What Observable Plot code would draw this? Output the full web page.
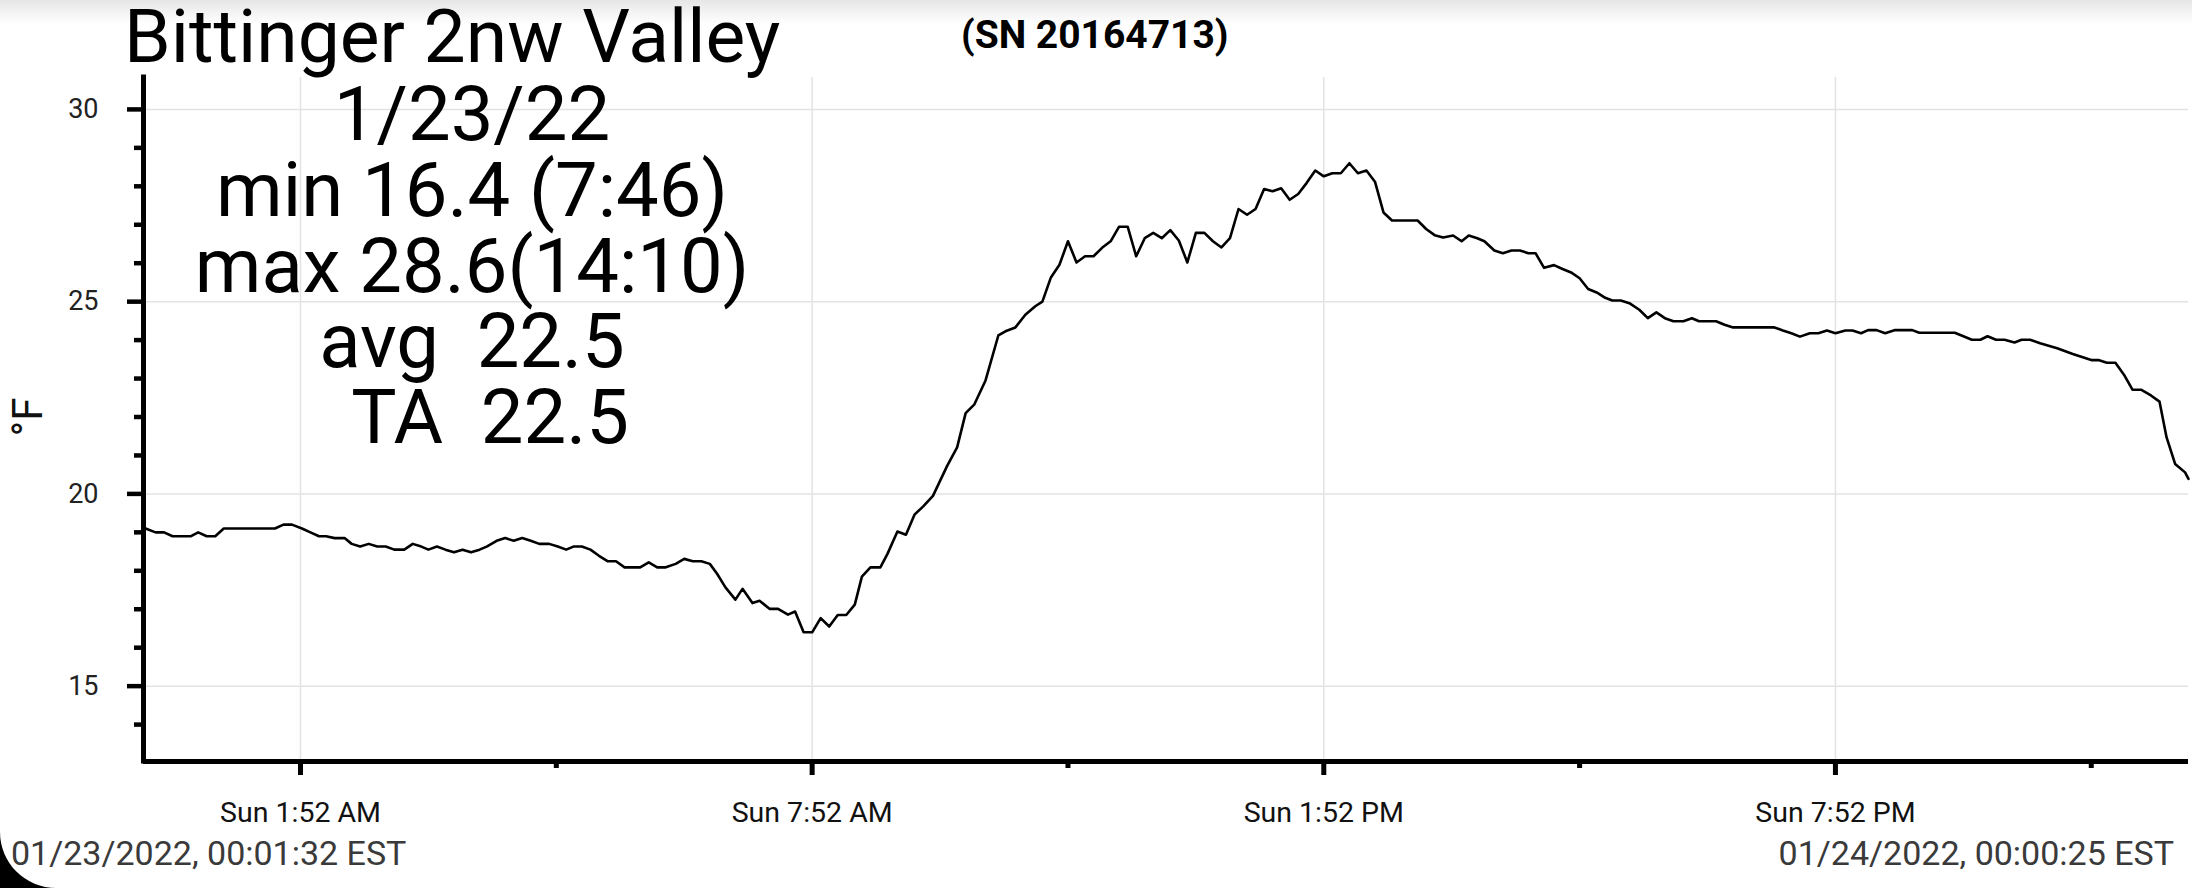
<!DOCTYPE html>
<html><head><meta charset="utf-8">
<script src="https://cdn.jsdelivr.net/npm/d3@7"></script>
<script src="https://cdn.jsdelivr.net/npm/@observablehq/plot@0.6"></script>
<style>
html,body{margin:0;padding:0;background:#000;}
#wrap{position:relative;width:2192px;height:888px;background:#fff;border-bottom-left-radius:56px;overflow:hidden;font-family:Roboto,sans-serif;}
#shade{position:absolute;left:0;top:0;width:100%;height:24px;background:linear-gradient(#e6e6e6,rgba(255,255,255,0));}
#chart{position:absolute;left:0;top:0;}
#overlay{position:absolute;left:0;top:0;pointer-events:none;}
#overlay text{white-space:pre;}
</style></head>
<body><div id="wrap"><div id="shade"></div><div id="chart"></div><svg id="overlay" width="2192" height="888" xml:space="preserve"></svg></div>
<script>
// ---- data ----
const times = ["00:01:32","00:03","00:10","00:16","00:22","00:35","00:40","00:46","00:52","00:58","01:34","01:40","01:46","01:53","01:59","02:05","02:10","02:16","02:23","02:28","02:34","02:40","02:46","02:52","02:58","03:05","03:11","03:17","03:22","03:28","03:34","03:40","03:46","03:52","03:58","04:03","04:10","04:16","04:22","04:28","04:34","04:40","04:47","04:53","04:59","05:04","05:10","05:16","05:22","05:28","05:34","05:40","05:51","05:57","06:03","06:09","06:16","06:22","06:28","06:34","06:40","06:45","06:51","06:58","07:03","07:10","07:15","07:22","07:28","07:35","07:40","07:46","07:52","07:58","08:04","08:10","08:16","08:22","08:27","08:33","08:40","08:45","08:52","08:58","09:04","09:10","09:17","09:21","09:27","09:34","09:40","09:46","09:54","10:03","10:08","10:15","10:22","10:29","10:34","10:40","10:46","10:52","10:58","11:04","11:10","11:16","11:22","11:28","11:34","11:40","11:46","11:52","11:58","12:04","12:10","12:16","12:22","12:28","12:34","12:40","12:46","12:52","12:58","13:04","13:10","13:16","13:22","13:28","13:34","13:40","13:46","13:52","13:58","14:04","14:10","14:16","14:22","14:28","14:34","14:40","14:46","14:58","15:04","15:10","15:16","15:23","15:29","15:34","15:40","15:45","15:52","15:58","16:04","16:10","16:16","16:21","16:27","16:34","16:40","16:46","16:52","16:58","17:04","17:10","17:15","17:21","17:27","17:34","17:40","17:46","17:52","17:58","18:05","18:11","18:16","18:28","18:34","18:40","19:09","19:15","19:21","19:27","19:34","19:40","19:46","19:52","19:59","20:04","20:10","20:15","20:21","20:27","20:34","20:46","20:51","21:16","21:28","21:34","21:39","21:45","21:51","21:58","22:03","22:09","22:16","22:28","22:39","22:52","22:57","23:03","23:09","23:15","23:21","23:27","23:34","23:40","23:45","23:51","23:58","24:00:25"];
const temps = [19.1,19.1,19.0,19.0,18.9,18.9,19.0,18.9,18.9,19.1,19.1,19.2,19.2,19.1,19.0,18.9,18.9,18.85,18.85,18.7,18.63,18.7,18.63,18.63,18.55,18.55,18.7,18.63,18.55,18.63,18.55,18.48,18.55,18.48,18.55,18.63,18.78,18.85,18.78,18.85,18.78,18.7,18.7,18.63,18.55,18.63,18.63,18.55,18.39,18.25,18.25,18.09,18.09,18.22,18.09,18.09,18.18,18.31,18.25,18.25,18.18,17.93,17.57,17.25,17.53,17.16,17.22,17.01,17.01,16.86,16.94,16.4,16.4,16.77,16.55,16.85,16.85,17.12,17.85,18.09,18.09,18.44,19.02,18.94,19.46,19.67,19.95,20.26,20.73,21.21,22.10,22.32,22.95,24.12,24.23,24.33,24.66,24.88,25.00,25.63,25.96,26.57,26.02,26.18,26.18,26.40,26.57,26.95,26.95,26.18,26.65,26.79,26.65,26.86,26.59,26.02,26.79,26.79,26.57,26.41,26.65,27.41,27.26,27.41,27.93,27.87,27.95,27.65,27.80,28.09,28.41,28.26,28.34,28.34,28.6,28.34,28.41,28.12,27.32,27.11,27.11,27.11,26.89,26.73,26.67,26.72,26.57,26.72,26.65,26.57,26.33,26.26,26.33,26.33,26.26,26.26,25.88,25.95,25.85,25.76,25.61,25.33,25.24,25.10,25.03,25.03,24.96,24.79,24.57,24.72,24.57,24.49,24.49,24.57,24.49,24.49,24.40,24.33,24.33,24.25,24.18,24.09,24.18,24.18,24.25,24.18,24.25,24.25,24.18,24.26,24.26,24.18,24.26,24.26,24.19,24.19,24.01,24.01,24.10,24.01,24.01,23.94,24.01,24.01,23.92,23.79,23.64,23.48,23.48,23.41,23.41,23.10,22.71,22.71,22.56,22.40,21.47,20.78,20.56,20.39];

const xMajorTimes = ["01:52","07:52","13:52","19:52"];
const xMajorLabels = ["Sun 1:52 AM","Sun 7:52 AM","Sun 1:52 PM","Sun 7:52 PM"];
const xMinorTimes = ["04:52","10:52","16:52","22:52"];
const yMajor = [15, 20, 25, 30];
const yMinor = [14, 16, 17, 18, 19, 21, 22, 23, 24, 26, 27, 28, 29];
const yDomain = [13.04, 30.83];

const titleText = "Bittinger 2nw Valley";
const serialText = "(SN 20164713)";
const statsLines = ["1/23/22", "min 16.4 (7:46)", "max 28.6(14:10)", "avg  22.5", "  TA  22.5"];
const unitLabel = "°F";
const startLabel = "01/23/2022, 00:01:32 EST";
const endLabel = "01/24/2022, 00:00:25 EST";

// ---- build ----
function toDate(s) {
  const p = s.split(":").map(Number);
  return new Date(Date.UTC(2022, 0, 23, p[0], p[1], p[2] || 0));
}
const data = times.map((t, i) => ({time: toDate(t), temp: temps[i]}));
const xMajor = xMajorTimes.map(toDate);
const xMinor = xMinorTimes.map(toDate);
const start = data[0].time, end = data[data.length - 1].time;

const chart = Plot.plot({
  width: 2192, height: 888,
  marginLeft: 143, marginRight: 4, marginTop: 77, marginBottom: 127,
  style: {background: "transparent", fontFamily: "Roboto, sans-serif", overflow: "visible"},
  x: {type: "utc", domain: [start, end]},
  y: {domain: yDomain},
  marks: [
    Plot.gridY(yMajor, {stroke: "#e3e3e3", strokeOpacity: 1, strokeWidth: 1.5}),
    Plot.gridX(xMajor, {stroke: "#e3e3e3", strokeOpacity: 1, strokeWidth: 1.5}),
    Plot.line(data, {x: "time", y: "temp", stroke: "#000", strokeWidth: 2.6}),
    Plot.axisY(yMinor, {tickSize: 9, tickFormat: () => "", stroke: "#000", strokeWidth: 4.5, label: null}),
    Plot.axisY(yMajor, {tickSize: 16, tickPadding: 29, fontSize: 27, fill: "#222", stroke: "#000", strokeWidth: 4.5, label: null}),
    Plot.axisX(xMinor, {tickSize: 7, tickFormat: () => "", stroke: "#000", strokeWidth: 5, label: null}),
    Plot.axisX(xMajor, {tickSize: 14, tickPadding: 26, fontSize: 28.5, fill: "#111", stroke: "#000", strokeWidth: 5, label: null,
      tickFormat: d => xMajorLabels[xMajor.findIndex(t => +t === +d)]}),
    Plot.ruleX([start], {stroke: "#000", strokeWidth: 5, strokeLinecap: "square"}),
    Plot.ruleY([yDomain[0]], {stroke: "#000", strokeWidth: 5})
  ]
});
document.getElementById("chart").appendChild(chart);

const ov = d3.select("#overlay").style("font-family", "Roboto, sans-serif");
ov.append("text").attr("x", 124).attr("y", 62).attr("font-size", 75).attr("fill", "#000").text(titleText);
ov.append("text").attr("x", 961).attr("y", 48).attr("font-size", 39).attr("font-weight", "bold").attr("fill", "#000").text(serialText);
const baselines = [140, 216, 292, 367, 443];
statsLines.forEach((s, i) => {
  ov.append("text").attr("x", 472).attr("y", baselines[i]).attr("font-size", 76).attr("text-anchor", "middle").attr("fill", "#000").text(s);
});
ov.append("text").attr("transform", "translate(42,417) rotate(-90)").attr("text-anchor", "middle").attr("font-size", 42).attr("fill", "#111").text(unitLabel);
ov.append("text").attr("x", 11).attr("y", 865).attr("font-size", 34).attr("fill", "#3a3a3a").text(startLabel);
ov.append("text").attr("x", 2174).attr("y", 865).attr("font-size", 34).attr("text-anchor", "end").attr("fill", "#3a3a3a").text(endLabel);
</script>
</body></html>
